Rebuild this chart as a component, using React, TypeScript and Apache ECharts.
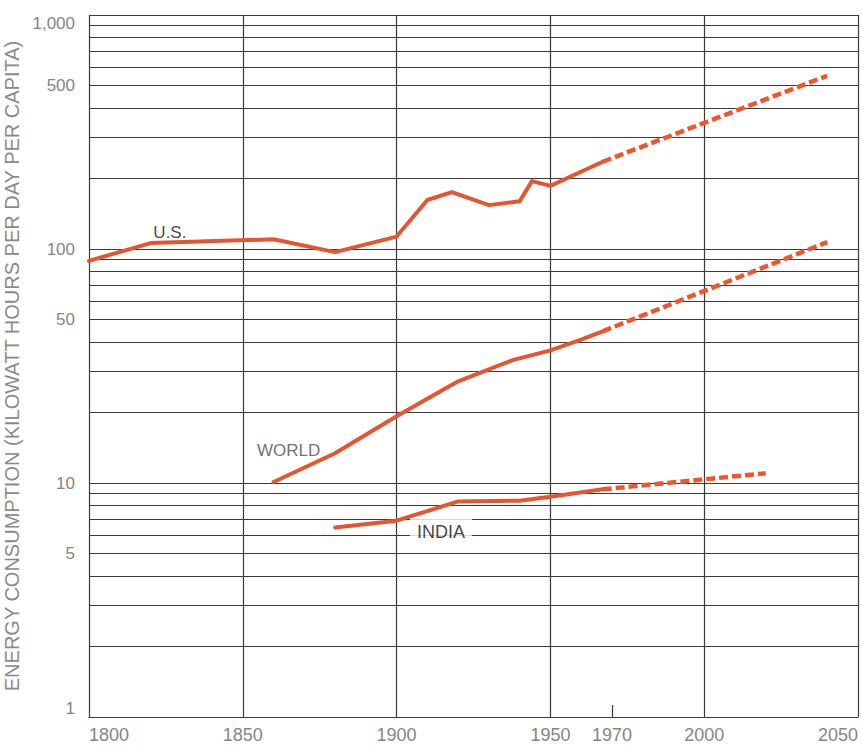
import React, { useEffect, useRef } from 'react';
import * as echarts from 'echarts';

// Per-capita energy consumption, kilowatt-hours per day
const usYears = [1800, 1820, 1860, 1880, 1900, 1910, 1918, 1930, 1940, 1944, 1950, 1967];
const usValues = [89, 106, 110, 97, 113, 162, 175, 154, 160, 195, 186, 236];
const usProjYears = [1967, 2040];
const usProjValues = [236, 550];

const worldYears = [1860, 1880, 1900, 1920, 1938, 1950, 1960, 1967];
const worldValues = [10.1, 13.4, 19.3, 27.2, 33.6, 36.9, 41, 44.5];
const worldProjYears = [1967, 2040];
const worldProjValues = [44.5, 107];

const indiaYears = [1880, 1900, 1920, 1940, 1950, 1967];
const indiaValues = [6.46, 6.9, 8.34, 8.4, 8.74, 9.4];
const indiaProjYears = [1967, 2020];
const indiaProjValues = [9.4, 11.0];

// Log-paper rulings between the decades, and the extra labelled values
const minorGridValues = [2, 3, 4, 5, 6, 7, 8, 9, 20, 30, 40, 50, 60, 70, 80, 90, 200, 300, 400, 500, 600, 700, 800, 900];
const halfLabels = [5, 50, 500];
const extraYearTicks = [1970];

// Series names placed beside their curves: [year, value, text]
const annotations: [number, number, string][] = [
  [1826.3, 117.6, 'U.S.'],
  [1864.9, 13.8, 'WORLD'],
  [1914.4, 6.15, 'INDIA'],
];

const FONT = '"Liberation Sans", Arial, Helvetica, sans-serif';
const GRID_COLOR = '#3a3a3a';
const AXIS_TEXT = '#858585';
const SOLID = '#e5552f';
const DASHED = '#f2552a';

const pairs = (xs: number[], ys: number[]) => xs.map((x, i) => [x, ys[i]]);

export default function App() {
  const ref = useRef<HTMLDivElement>(null);

  useEffect(() => {
    if (!ref.current) return;
    const chart = echarts.init(ref.current, null, { renderer: 'svg' });

    const gridLineStyle = { color: GRID_COLOR, width: 1.2, type: 'solid' as const };
    const axisLabelStyle = { color: AXIS_TEXT, fontFamily: FONT, fontSize: 18 };
    const yearFormatter = (v: number) => String(Math.round(v));

    const solidLine = (name: string, xs: number[], ys: number[]) => ({
      name,
      type: 'line',
      data: pairs(xs, ys),
      symbol: 'none',
      z: 4,
      lineStyle: { color: SOLID, width: 4, cap: 'round', join: 'round' },
    });
    const dashedLine = (name: string, xs: number[], ys: number[]) => ({
      name,
      type: 'line',
      data: pairs(xs, ys),
      symbol: 'none',
      z: 4,
      lineStyle: { color: DASHED, width: 4.5, type: [9, 4] },
    });

    const labelStyles: Record<string, any> = {
      'U.S.': { color: '#111', fontSize: 17 },
      WORLD: { color: '#4a4a4a', fontSize: 17 },
      INDIA: { color: '#111', fontSize: 18, backgroundColor: '#fff', padding: [9, 7, 6, 7] },
    };

    chart.setOption({
      animation: false,
      grid: {
        left: 89,
        right: 4,
        top: 15,
        bottom: 29,
        containLabel: false,
        outerBoundsMode: 'none',
      },
      xAxis: [
        {
          type: 'value',
          min: 1800,
          max: 2050,
          interval: 50,
          position: 'bottom',
          axisLine: { show: true, lineStyle: gridLineStyle },
          axisTick: { show: false },
          splitLine: { show: true, lineStyle: gridLineStyle },
          axisLabel: {
            ...axisLabelStyle,
            margin: 9,
            alignMinLabel: 'left',
            alignMaxLabel: 'right',
            formatter: yearFormatter,
          },
        },
        {
          type: 'value',
          min: 1800,
          max: 2050,
          position: 'bottom',
          axisLine: { show: false },
          splitLine: { show: false },
          axisTick: {
            show: true,
            inside: true,
            length: 12,
            customValues: extraYearTicks,
            lineStyle: gridLineStyle,
          },
          axisLabel: {
            ...axisLabelStyle,
            margin: 9,
            customValues: extraYearTicks,
            formatter: yearFormatter,
          },
        },
      ],
      yAxis: {
        type: 'log',
        logBase: 10,
        min: 1,
        max: 1000,
        axisLine: { show: false },
        axisTick: { show: false },
        splitLine: { show: true, lineStyle: gridLineStyle },
        axisLabel: {
          color: AXIS_TEXT,
          fontFamily: FONT,
          fontSize: 17,
          margin: 14,
          verticalAlignMinLabel: 'bottom',
          verticalAlignMaxLabel: 'top',
          formatter: (v: number) => Math.round(v).toLocaleString('en-US'),
        },
        name: 'ENERGY CONSUMPTION (KILOWATT HOURS PER DAY PER CAPITA)',
        nameLocation: 'middle',
        nameGap: 58,
        nameTextStyle: { color: '#8a8a8a', fontFamily: FONT, fontSize: 20 },
      },
      series: [
        {
          name: 'rulings',
          type: 'line',
          data: [],
          z: 1,
          silent: true,
          markLine: {
            silent: true,
            z: 1,
            symbol: 'none',
            animation: false,
            lineStyle: gridLineStyle,
            label: { show: false },
            data: minorGridValues.map((v) => ({
              yAxis: v,
              label: halfLabels.includes(v)
                ? {
                    show: true,
                    position: 'start',
                    distance: 14,
                    formatter: String(v),
                    color: AXIS_TEXT,
                    fontFamily: FONT,
                    fontSize: 17,
                  }
                : { show: false },
            })),
          },
        },
        {
          name: 'labels',
          type: 'scatter',
          z: 2,
          silent: true,
          symbolSize: 0,
          data: annotations.map(([x, y, text]) => ({
            value: [x, y],
            label: {
              show: true,
              position: 'inside',
              formatter: text,
              fontFamily: FONT,
              ...labelStyles[text],
            },
          })),
        },
        solidLine('U.S.', usYears, usValues),
        dashedLine('U.S. projection', usProjYears, usProjValues),
        solidLine('World', worldYears, worldValues),
        dashedLine('World projection', worldProjYears, worldProjValues),
        solidLine('India', indiaYears, indiaValues),
        dashedLine('India projection', indiaProjYears, indiaProjValues),
      ],
    });

    return () => chart.dispose();
  }, []);

  return (
    <div
      ref={ref}
      style={{ position: 'fixed', left: 0, top: 0, width: 862, height: 746, background: '#fff' }}
    />
  );
}
